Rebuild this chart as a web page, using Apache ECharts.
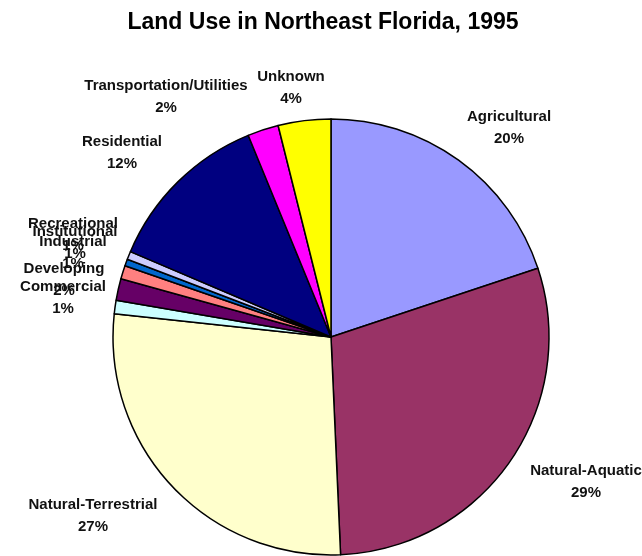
<!DOCTYPE html>
<html>
<head>
<meta charset="utf-8">
<title>Land Use in Northeast Florida, 1995</title>
<script src="https://cdn.jsdelivr.net/npm/echarts@6/dist/echarts.min.js"></script>
<style>
  html, body { margin: 0; padding: 0; background: #fff; }
  #chart { width: 642px; height: 556px; }
</style>
</head>
<body>
<div id="chart"></div>
<script>
// Land use shares (percent of total area), clockwise from 12 o'clock
const categories = [
  'Agricultural', 'Natural-Aquatic', 'Natural-Terrestrial', 'Commercial',
  'Developing', 'Industrial', 'Institutional', 'Recreational',
  'Residential', 'Transportation/Utilities', 'Unknown'
];
const shares = [19.9, 29.4, 27.4, 1.0, 1.6, 1.0, 0.5, 0.6, 12.4, 2.3, 3.9];
const colors = [
  '#9999FF', '#993366', '#FFFFCC', '#CCFFFF', '#660066', '#FF8080',
  '#0066CC', '#CCCCFF', '#000080', '#FF00FF', '#FFFF00'
];

// Centre point of each two-line slice label
const labelCenters = [
  [509, 128], [586, 482], [93, 516], [63, 298], [64, 280], [73, 253],
  [75, 243], [73, 235], [122, 153], [166, 97], [291, 88]
];

const chart = echarts.init(document.getElementById('chart'), null, { renderer: 'canvas' });

chart.setOption({
  backgroundColor: '#ffffff',
  animation: false,
  title: {
    text: 'Land Use in Northeast Florida, 1995',
    left: 318,
    textAlign: 'center',
    top: 6,
    textStyle: {
      fontFamily: 'Liberation Sans, Arial, sans-serif',
      fontSize: 23,
      fontWeight: 'bold',
      color: '#000'
    }
  },
  series: [{
    type: 'pie',
    center: [331, 337],
    radius: 218,
    startAngle: 90,
    clockwise: true,
    avoidLabelOverlap: false,
    silent: true,
    itemStyle: { borderColor: '#000', borderWidth: 1.5 },
    label: {
      show: true,
      position: 'outside',
      formatter: p => p.name + '\n' + Math.round(p.value) + '%',
      fontFamily: 'Liberation Sans, Arial, sans-serif',
      fontSize: 15,
      fontWeight: 'bold',
      lineHeight: 22,
      align: 'center',
      color: '#111'
    },
    labelLine: { show: false },
    labelLayout: params => {
      const c = labelCenters[params.dataIndex];
      return { x: c[0], y: c[1], align: 'center', verticalAlign: 'middle' };
    },
    data: categories.map((name, i) => ({
      name: name,
      value: shares[i],
      itemStyle: { color: colors[i] }
    }))
  }]
});
</script>
</body>
</html>
